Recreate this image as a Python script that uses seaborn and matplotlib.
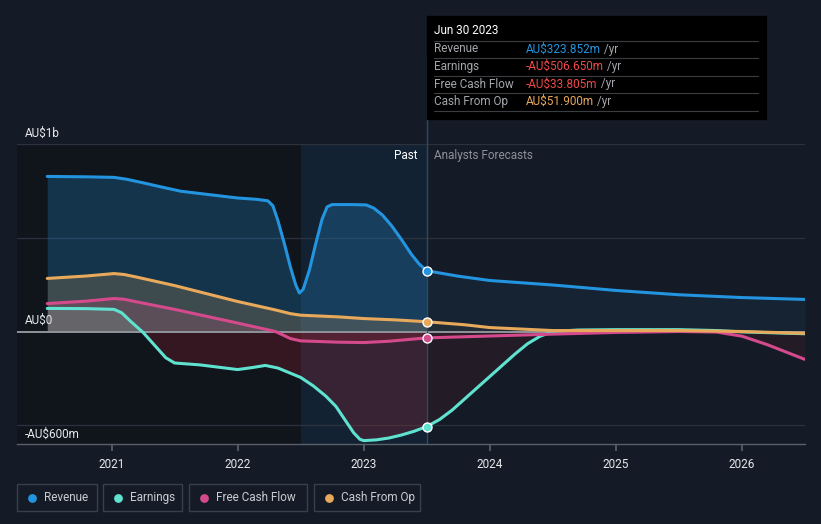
import matplotlib.pyplot as plt
import numpy as np
import pandas as pd
import seaborn as sns

# ── data (AU$ m, decimal years) ───────────────────────────────────────────────
rev_x = [2020.49, 2020.8, 2021.02, 2021.12, 2021.25, 2021.4, 2021.55, 2021.8, 2022.0, 2022.15, 2022.24,
         2022.28, 2022.32, 2022.37, 2022.42, 2022.46, 2022.49, 2022.52, 2022.57, 2022.62, 2022.67, 2022.71,
         2022.75, 2022.9, 2023.02, 2023.08, 2023.15, 2023.22, 2023.3, 2023.38, 2023.44, 2023.5]
rev_y = [827, 825, 822, 812, 793, 770, 748, 728, 712, 705, 697,
         670, 590, 470, 340, 250, 205, 225, 330, 470, 600, 665,
         677, 677, 675, 658, 620, 565, 490, 410, 360, 324]
rev_fx = [2023.5, 2023.75, 2024.0, 2024.5, 2025.0, 2025.5, 2026.0, 2026.5]
rev_fy = [324, 295, 272, 248, 219, 196, 181, 171]

earn_x = [2020.49, 2020.8, 2021.02, 2021.08, 2021.15, 2021.25, 2021.35, 2021.43, 2021.5, 2021.7, 2022.0,
          2022.12, 2022.22, 2022.32, 2022.5, 2022.6, 2022.7, 2022.78, 2022.85, 2022.92, 2022.97, 2023.0,
          2023.1, 2023.2, 2023.3, 2023.4, 2023.5]
earn_y = [123, 122, 118, 100, 55, -5, -80, -140, -168, -178, -203,
          -192, -181, -195, -245, -290, -345, -400, -470, -540, -575, -582,
          -578, -568, -552, -532, -507]
earn_fx = [2023.5, 2023.6, 2023.7, 2023.8, 2023.9, 2024.0, 2024.1, 2024.2, 2024.3, 2024.4, 2024.5,
           2024.7, 2025.0, 2025.5, 2025.8, 2026.0, 2026.5]
earn_fy = [-507, -470, -420, -360, -300, -240, -180, -120, -65, -25, 0,
           8, 10, 10, 5, -2, -12]

fcf_x = [2020.49, 2020.8, 2021.02, 2021.1, 2021.2, 2021.5, 2022.0, 2022.3, 2022.42, 2022.5, 2022.8, 2023.0,
         2023.2, 2023.5]
fcf_y = [149, 162, 176, 172, 158, 118, 45, 0, -38, -50, -57, -59, -52, -34]
fcf_fx = [2023.5, 2024.0, 2024.5, 2025.0, 2025.5, 2025.8, 2026.0, 2026.2, 2026.5]
fcf_fy = [-34, -24, -14, -5, 0, -3, -25, -70, -149]

cfo_x = [2020.49, 2020.8, 2021.02, 2021.1, 2021.2, 2021.5, 2022.0, 2022.3, 2022.42, 2022.5, 2022.8, 2023.0,
         2023.25, 2023.5]
cfo_y = [283, 296, 309, 304, 290, 245, 160, 115, 95, 87, 78, 69, 62, 52]
cfo_fx = [2023.5, 2023.8, 2024.0, 2024.5, 2025.0, 2025.5, 2026.0, 2026.5]
cfo_fy = [52, 36, 21, 5, 5, 5, 0, -10]

now_x = 2023.5
year_ticks = [2021, 2022, 2023, 2024, 2025, 2026]

series = [
    ("Revenue", "#2394df", rev_x, rev_y, rev_fx, rev_fy),
    ("Earnings", "#5fe3d0", earn_x, earn_y, earn_fx, earn_fy),
    ("Free Cash Flow", "#d44a8c", fcf_x, fcf_y, fcf_fx, fcf_fy),
    ("Cash From Op", "#e8a95b", cfo_x, cfo_y, cfo_fx, cfo_fy),
]

# ── style ─────────────────────────────────────────────────────────────────────
sns.set_theme(style="dark")
plt.rcParams["font.family"] = ["Roboto", "DejaVu Sans"]

BG = "#151b26"
NEG = "#c8283c"
W, H = 821, 524
fig = plt.figure(figsize=(W / 100, H / 100), dpi=100, facecolor=BG)

# axes in pixel placement: x 17..805, y 144..444
ax = fig.add_axes([17 / W, 1 - 444 / H, (805 - 17) / W, 300 / H])
ax.set_facecolor(BG)
ax.set_xlim(2020.25, 2026.5)
ax.set_ylim(-600, 1000)

ax.axvspan(2020.25, 2022.5, color="#10141b", zorder=0, lw=0)
ax.axvspan(2022.5, now_x, color="#132232", zorder=0, lw=0)

for yv in [1000, 500, -500]:
    ax.axhline(yv, color="#2b323d", lw=0.9, zorder=1)

for name, col, px, py, fx, fy in series:
    pxa, pya = np.array(px), np.array(py, dtype=float)
    fxa, fya = np.array(fx), np.array(fy, dtype=float)
    pos_a = 0.25 if name == "Revenue" else 0.2
    ax.fill_between(pxa, np.maximum(pya, 0), 0, color=col, alpha=pos_a, lw=0, zorder=2)
    ax.fill_between(pxa, np.minimum(pya, 0), 0, color=NEG, alpha=0.2, lw=0, zorder=2)
    ax.fill_between(fxa, np.maximum(fya, 0), 0, color=col, alpha=0.07, lw=0, zorder=2)
    ax.fill_between(fxa, np.minimum(fya, 0), 0, color=NEG, alpha=0.08, lw=0, zorder=2)
    df = pd.DataFrame({"x": px + fx[1:], "y": py + fy[1:]})
    sns.lineplot(data=df, x="x", y="y", ax=ax, color=col, lw=2.2, zorder=4, estimator=None, sort=False)
    ax.scatter([now_x], [py[-1]], s=42, color=col, edgecolor="white", linewidth=1.0, zorder=6)

ax.axhline(0, color="#8f949b", lw=1.4, zorder=3)
ax.axvline(now_x, color="#2c4a66", lw=1, zorder=3)
ax.plot([now_x, now_x], [1000, 1470], color="#2c4a66", lw=1, clip_on=False, zorder=3)

ax.set_xlabel("")
ax.set_ylabel("")
ax.set_yticks([])
ax.set_xticks(year_ticks)
ax.set_xticklabels([str(y) for y in year_ticks], color="#e6e8eb", fontsize=8.5)
ax.tick_params(axis="x", length=5, color="#5a606a", pad=5, bottom=True)
for s in ["top", "right", "left"]:
    ax.spines[s].set_visible(False)
ax.spines["bottom"].set_color("#5a606a")
ax.spines["bottom"].set_linewidth(1)

# y labels
ax.text(2020.31, 1020, "AU$1b", color="#e6e8eb", fontsize=8.5, ha="left", va="bottom")
ax.text(2020.31, 25, "AU$0", color="#e6e8eb", fontsize=8.5, ha="left", va="bottom")
ax.text(2020.31, -585, "-AU$600m", color="#e6e8eb", fontsize=8.5, ha="left", va="bottom")
ax.text(now_x - 0.07, 940, "Past", color="#ffffff", fontsize=8.5, ha="right", va="center")
ax.text(now_x + 0.06, 940, "Analysts Forecasts", color="#8b9099", fontsize=8.5, ha="left", va="center")

# ── overlay in pixel coordinates: tooltip + legend ───────────────────────────
ov = fig.add_axes([0, 0, 1, 1], facecolor="none")
ov.set_xlim(0, W)
ov.set_ylim(H, 0)
ov.axis("off")

ov.add_patch(plt.Rectangle((427, 16), 339, 103, color="#000000", zorder=1))
ov.text(434, 31, "Jun 30 2023", color="#ffffff", fontsize=8.5, va="center", zorder=2)
rows = [
    ("Revenue", "AU$323.852m", "#2394df"),
    ("Earnings", "-AU$506.650m", "#f04848"),
    ("Free Cash Flow", "-AU$33.805m", "#f04848"),
    ("Cash From Op", "AU$51.900m", "#e8a95b"),
]
for i, (lab, val, col) in enumerate(rows):
    yy = 49 + i * 17.5
    ov.plot([434, 758], [yy - 8.5, yy - 8.5], color="#3a3d42", lw=0.8, zorder=2)
    ov.text(434, yy, lab, color="#a3a6ab", fontsize=8.5, va="center", zorder=2)
    t = ov.text(526, yy, val, color=col, fontsize=8.5, va="center", zorder=2)
    ov.annotate(" /yr", xy=(1, 0.5), xycoords=t, va="center", ha="left",
                color="#a3a6ab", fontsize=8.5, zorder=2)
ov.plot([434, 758], [111, 111], color="#3a3d42", lw=0.8, zorder=2)

legend_boxes = [(17, 97), (103, 182), (189, 307), (314, 420)]
for (x0, x1), (name, col, *_) in zip(legend_boxes, series):
    ov.add_patch(plt.Rectangle((x0, 484), x1 - x0, 27, facecolor="none",
                               edgecolor="#3a404a", lw=1, zorder=1))
    ov.scatter([x0 + 15], [497.5], s=28, color=col, zorder=2)
    ov.text(x0 + 27, 497.5, name, color="#c9ccd1", fontsize=8.5, va="center", zorder=2)

fig.savefig("out.png", dpi=100, facecolor=BG)
